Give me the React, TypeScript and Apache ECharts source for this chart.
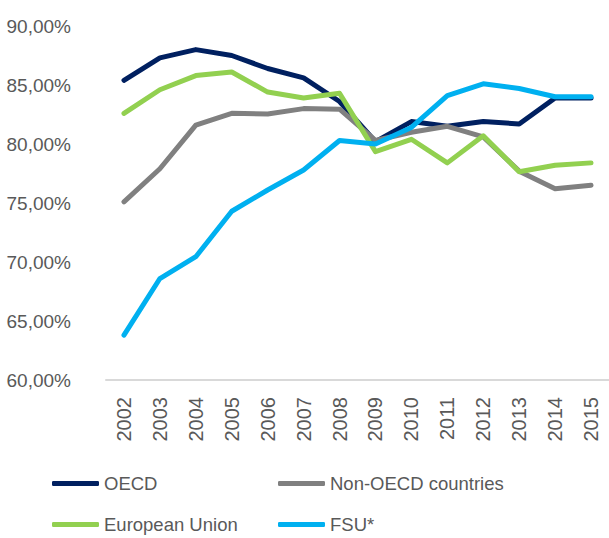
import React, { useEffect, useRef } from "react";
import * as echarts from "echarts";

const years = ["2002","2003","2004","2005","2006","2007","2008","2009","2010","2011","2012","2013","2014","2015"];
const oecd = [85.4, 87.3, 88.0, 87.5, 86.4, 85.6, 83.6, 80.2, 81.9, 81.5, 81.9, 81.7, 83.9, 83.9];
const nonOecd = [75.1, 77.9, 81.6, 82.6, 82.55, 83.0, 82.95, 80.3, 81.0, 81.5, 80.6, 77.7, 76.2, 76.5];
const eu = [82.6, 84.6, 85.8, 86.1, 84.4, 83.9, 84.3, 79.35, 80.4, 78.4, 80.7, 77.65, 78.2, 78.4];
const fsu = [63.8, 68.6, 70.45, 74.3, 76.1, 77.8, 80.3, 80.0, 81.4, 84.1, 85.1, 84.7, 84.0, 84.0];

const names = ["OECD", "Non-OECD countries", "European Union", "FSU*"];
const colors = ["#002060", "#808080", "#92D050", "#00B0F0"];
const seriesData = [oecd, nonOecd, eu, fsu];
const legendPos = [
  [52, 474],
  [278, 474],
  [52, 515],
  [278, 515],
];

const FONT = "Liberation Sans";

export default function App() {
  const ref = useRef<HTMLDivElement>(null);
  useEffect(() => {
    document.body.style.margin = "0";
    document.body.style.overflow = "hidden";
    const chart = echarts.init(ref.current!, null, { renderer: "svg" });
    chart.setOption({
      animation: false,
      backgroundColor: "#ffffff",
      grid: { left: 106, top: 26, width: 507, height: 354, containLabel: false },
      legend: names.map((n, i) => ({
        left: legendPos[i][0],
        top: legendPos[i][1],
        data: [n],
        icon: "roundRect",
        itemWidth: 47,
        itemHeight: 5,
        padding: 0,
        textStyle: { fontFamily: FONT, fontSize: 18.5, color: "#595959" },
      })),
      xAxis: {
        type: "category",
        data: years,
        boundaryGap: true,
        axisLine: { show: true, lineStyle: { color: "#D9D9D9", width: 2 } },
        axisTick: { show: false },
        axisLabel: {
          rotate: 90,
          margin: 17,
          interval: 0,
          fontFamily: FONT,
          fontSize: 20,
          color: "#595959",
        },
        splitLine: { show: false },
      },
      yAxis: {
        type: "value",
        min: 60,
        max: 90,
        interval: 5,
        axisLine: { show: false },
        axisTick: { show: false },
        splitLine: { show: false },
        axisLabel: {
          margin: 35,
          fontFamily: FONT,
          fontSize: 19,
          color: "#595959",
          formatter: (v: number) => v.toFixed(2).replace(".", ",") + "%",
        },
      },
      series: names.map((n, i) => ({
        name: n,
        type: "line",
        data: seriesData[i],
        symbol: "none",
        color: colors[i],
        lineStyle: { width: 5, color: colors[i], cap: "round", join: "round" },
        z: 2 + i,
      })),
    });
    return () => chart.dispose();
  }, []);
  return <div ref={ref} style={{ position: "absolute", left: 0, top: 0, width: 609, height: 538 }} />;
}
